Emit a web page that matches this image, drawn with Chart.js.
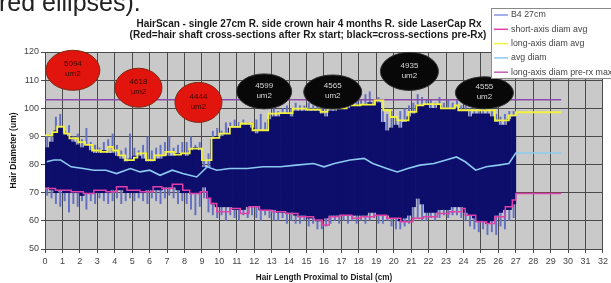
<!DOCTYPE html>
<html><head><meta charset="utf-8">
<script src="https://cdn.jsdelivr.net/npm/chart.js@4/dist/chart.umd.min.js"></script>
<style>html,body{margin:0;padding:0;background:#fff;overflow:hidden}</style>
</head><body>
<canvas id="c" width="611" height="283"></canvas>
<script>
// ---- DATA ----
// raw "B4 27cm" scan, summarised per 0.25 cm slice (dense core range and spike extremes, um)
const bandStart = 0.125, bandStep = 0.25;
const coreHigh = [86,88,92,93, 91,90,88,87, 86,87,85,84, 84,85,84,84, 83,82,81,82, 83,83,82,81, 81,82,82,83, 83,83,84,84, 83,85,86,85,
  79,79,89,90, 90,91,93,93, 93,94,94,93, 91,92,92,96, 97,97,98,98, 97,99,99,99, 99,99,99,98, 97,99,99,100, 100,100,101,101,
  101,101,102,101, 102,95,92,93, 94,93,95,97, 98,101,101,101, 100,100,101,100, 100,100,100,99, 99,97,98,98, 98,98,97,95, 94,94,96,97];
const coreLow = [72,71,70,71, 70,70,70,70, 69,70,70,70, 70,70,70,71, 71,71,70,70, 70,70,70,71, 71,71,71,72, 72,72,71,70, 70,70,70,70,
  72,68,66,65, 65,65,65,64, 64,64,65,65, 65,64,64,64, 64,63,63,63, 63,62,62,62, 61,61,60,60, 61,62,62,62, 62,62,62,62,
  62,62,63,63, 62,62,62,61, 61,60,61,62, 65,68,66,63, 63,63,64,64, 64,65,65,65, 63,62,61,60, 60,59,60,62, 63,64,64,66];
const spikeHigh = [90,91,97,98, 92,94,90,91, 89,93,88,87, 86,88,89,91, 87,85,86,91, 86,85,87,90, 85,86,87,88, 90,86,87,88, 88,90,87,88,
  82,84,92,93, 92,95,95,96, 95,96,95,95, 96,98,95,98, 100,99,100,101, 100,102,101,101, 102,101,103,100, 101,102,101,103, 102,103,104,103,
  103,105,106,103, 104,100,98,99, 97,99,100,101, 102,105,104,103, 103,102,104,102, 103,102,103,101, 102,100,101,100, 100,99,100,98, 97,98,99,99];
const spikeLow = [69,68,66,65, 67,63,66,65, 67,64,67,66, 68,67,66,67, 68,66,67,68, 67,68,67,66, 68,67,66,68, 69,68,66,67, 66,64,62,65,
  68,63,62,61, 62,60,62,61, 60,62,61,62, 61,60,62,61, 60,60,61,59, 60,59,59,60, 58,59,57,57, 58,59,60,59, 60,59,60,59,
  60,59,60,61, 59,59,60,58, 57,57,58,59, 60,61,60,60, 61,60,61,62, 61,62,62,61, 60,58,57,56, 57,55,56,55, 58,57,60,61];

// long-axis diam avg (step line: value starts at x)
const longAxisX = [0,0.4,0.7,1.1,1.4,1.9,2.3,2.7,3.2,3.6,3.9,4.2,4.6,5.1,5.3,5.8,6.3,6.9,7.4,7.8,8.3,9.0,9.55,10.0,10.6,11.2,11.9,12.8,13.4,14.2,15.0,15.8,16.2,17.3,18.1,18.9,19.4,19.8,20.2,20.85,21.3,21.7,22.7,23.5,23.7,25.8,26.6,27.0,29.6];
const longAxisY = [90.4,91.5,93.5,91,89.3,88,87,85,84.5,86.3,85,83.3,81.6,82.5,84,81.6,83.3,84.5,83.5,84,85.7,81.6,89.5,91,93.4,94.6,92.2,98.1,98.3,99.9,99.5,98.7,100,101,101.3,102.8,99.3,96.9,95.7,98.7,101,101.5,100,101,99.3,95.7,97.5,98.6,98.6];
// short-axis diam avg
const shortAxisX = [0,0.6,1.5,2.2,2.8,3.5,4.1,4.7,5.45,6.2,6.7,7.3,7.9,8.3,8.9,9.3,9.5,9.85,10.6,11.2,11.7,12.3,13.0,13.8,14.5,15.4,15.9,16.3,16.9,17.6,18.1,18.9,19.6,20.4,21.1,21.7,22.5,23.2,23.9,24.1,24.7,25.3,25.8,26.4,26.8,27.0,29.6];
const shortAxisY = [71.5,70.9,70.3,69.7,70.9,70.3,72.1,70.9,70.3,72.1,71.5,73,70.9,69.7,70.3,68,66.2,63.2,64.4,62.6,65,63.8,63.2,62.6,61.5,60.3,58.5,61.5,62,60.9,61.5,62,60.9,59.7,60.9,61.5,62.6,63.2,64.4,62,59.7,59.1,61.5,65,67.4,69.7,69.7];
// avg diam
const avgX = [0.1,0.5,0.9,1.5,2.2,2.8,3.5,4.1,4.9,5.45,6.0,6.6,7.3,7.9,8.3,8.7,9.3,9.85,10.6,11.6,12.5,13.5,14.4,15.4,16.0,16.6,17.5,18.3,18.8,19.6,20.2,20.8,21.5,22.3,23.0,23.6,24.1,24.7,25.3,26.0,26.6,27.0,29.6];
const avgY = [81,81.6,81.6,79.2,78.6,78,78,76.8,78.6,77.4,78,76.2,78,76.8,76.2,75.6,79.2,78,78.6,78.6,79.2,79.2,79.8,80.4,79.2,80.4,81.6,82.2,80.4,78.6,77.4,78.6,79.8,80.4,81.6,82.7,81,78,79.2,79.8,80.4,84.1,84.1];
// long-axis diam pre-rx max
const preMaxX = [0, 29.6];
const preMaxY = [103, 103];

// cross-section area callouts (um2), at (cm, um)
const calloutText = ['5094','4618','4444','4599','4565','4935','4555'];
const calloutX = [1.6, 5.36, 8.8, 12.57, 16.5, 20.9, 25.2];
const calloutY = [113.5, 107.3, 102.1, 106.0, 105.8, 113.1, 105.5];
const calloutAfterRx = [true, true, true, false, false, false, false];

const xTicksMax = 32;
const yMin = 50, yMax = 120, yStep = 10;

// ---- STYLE ----
const FONT = "'Liberation Sans', Arial, sans-serif";
const C_NAVY = '#0d0d6b', C_SPIKE = '#6470c0', C_YEL = '#f2f23c', C_MAG = '#e040a8', C_LB = '#8ccaf0', C_PUR = '#8c4aa8';
const calloutRx = [27, 23.5, 23.5, 27.5, 29, 29, 29];
const calloutRy = [20, 19.5, 20, 17.5, 17, 19, 16];

const bandX = coreHigh.map((_, i) => bandStart + i * bandStep);
const pts = (xs, ys) => xs.map((x, i) => ({x, y: ys[i]}));

const bgPlugin = {
  id: 'bg',
  beforeDraw(chart) {
    const {ctx, chartArea: a} = chart;
    ctx.save();
    ctx.fillStyle = '#fff'; ctx.fillRect(0, 0, chart.width, chart.height);
    ctx.fillStyle = '#c9c9c9'; ctx.fillRect(a.left, a.top, a.right - a.left, a.bottom - a.top);
    ctx.restore();
  }
};
const calloutPlugin = {
  id: 'callouts',
  afterDatasetsDraw(chart) {
    const {ctx, scales: {x, y}} = chart;
    ctx.save();
    calloutText.forEach((t, i) => {
      const cx = x.getPixelForValue(calloutX[i]), cy = y.getPixelForValue(calloutY[i]);
      ctx.beginPath();
      ctx.ellipse(cx, cy, calloutRx[i], calloutRy[i], 0, 0, Math.PI * 2);
      ctx.fillStyle = calloutAfterRx[i] ? '#e2140e' : '#080808';
      ctx.fill();
      ctx.lineWidth = 1; ctx.strokeStyle = calloutAfterRx[i] ? '#7a2a10' : '#303030';
      ctx.stroke();
      ctx.fillStyle = calloutAfterRx[i] ? '#3a0a00' : '#d8d8d8';
      ctx.font = '8px ' + FONT; ctx.textAlign = 'center'; ctx.textBaseline = 'middle';
      ctx.fillText(t, cx, cy - 6);
      ctx.fillText('um2', cx, cy + 4);
    });
    ctx.restore();
  }
};
const legendItems = [
  ['B4 27cm', '#8a94e2'], ['short-axis diam avg', C_MAG], ['long-axis diam avg', C_YEL],
  ['avg diam', C_LB], ['long-axis diam pre-rx max', '#c060b0']
];
const overlayPlugin = {
  id: 'overlay',
  afterDraw(chart) {
    const {ctx} = chart;
    ctx.save();
    // cut-off caption above
    ctx.fillStyle = '#222'; ctx.font = '25px ' + FONT; ctx.textAlign = 'left'; ctx.textBaseline = 'alphabetic';
    ctx.fillText('red ellipses).', -1, 11);
    // title
    ctx.font = 'bold 10px ' + FONT; ctx.textAlign = 'center'; ctx.textBaseline = 'middle'; ctx.fillStyle = '#1a1a1a';
    ctx.fillText('HairScan - single 27cm R. side crown hair 4 months R. side LaserCap Rx', 309, 24);
    ctx.fillText('(Red=hair shaft cross-sections after Rx start; black=cross-sections pre-Rx)', 308, 35.5);
    // legend
    ctx.fillStyle = '#fff'; ctx.fillRect(491.5, 8.5, 130, 70);
    ctx.strokeStyle = '#8a8a8a'; ctx.lineWidth = 1; ctx.strokeRect(491.5, 8.5, 130, 70);
    ctx.font = '8.8px ' + FONT; ctx.textAlign = 'left';
    legendItems.forEach(([t, c], i) => {
      const yy = 15 + i * 14.3;
      ctx.strokeStyle = c; ctx.lineWidth = 1.5;
      ctx.beginPath(); ctx.moveTo(494, yy); ctx.lineTo(508, yy); ctx.stroke();
      ctx.fillStyle = '#444'; ctx.fillText(t, 511, yy);
    });
    ctx.restore();
  }
};

new Chart(document.getElementById('c'), {
  type: 'bar',
  data: {
    datasets: [
      {type: 'line', label: 'long-axis diam pre-rx max', data: pts(preMaxX, preMaxY), borderColor: C_PUR, borderWidth: 1.5, pointRadius: 0, order: 4},
      {type: 'bar', label: 'B4 27cm spikes', data: bandX.map((x, i) => ({x, y: [spikeLow[i], spikeHigh[i]]})),
        backgroundColor: C_SPIKE, borderWidth: 0, barPercentage: 0.45, categoryPercentage: 1, grouped: false, order: 7},
      {type: 'bar', label: 'B4 27cm', data: bandX.map((x, i) => ({x, y: [coreLow[i], coreHigh[i]]})),
        backgroundColor: C_NAVY, borderWidth: 0, barPercentage: 1, categoryPercentage: 1, grouped: false, order: 6},
      {type: 'line', label: 'short-axis diam avg', data: pts(shortAxisX, shortAxisY), stepped: 'before', borderColor: C_MAG, borderWidth: 1.5, pointRadius: 0, order: 3},
      {type: 'line', label: 'avg diam', data: pts(avgX, avgY), borderColor: C_LB, borderWidth: 1.6, pointRadius: 0, order: 2},
      {type: 'line', label: 'long-axis diam avg', data: pts(longAxisX, longAxisY), stepped: 'before', borderColor: C_YEL, borderWidth: 1.8, pointRadius: 0, order: 1}
    ]
  },
  options: {
    responsive: false, animation: false, devicePixelRatio: 1, events: [],
    layout: {padding: {top: 52, right: 8, left: 0, bottom: 0}},
    plugins: {legend: {display: false}, title: {display: false}, tooltip: {enabled: false}},
    scales: {
      x: {
        type: 'linear', min: 0, max: xTicksMax, offset: false,
        grid: {color: '#4a4a4a', lineWidth: 1, offset: false, tickLength: 4, drawTicks: true},
        border: {color: '#4a4a4a'},
        ticks: {stepSize: 1, color: '#444', font: {family: FONT, size: 9}, padding: 3, maxRotation: 0, autoSkip: false},
        title: {display: true, text: 'Hair Length Proximal to Distal (cm)', color: '#1a1a1a', font: {family: FONT, size: 8.2, weight: 'bold'}, padding: {top: 0, bottom: 0}},
        afterFit(s) { s.height = 34; }
      },
      y: {
        min: yMin, max: yMax,
        grid: {color: '#4a4a4a', lineWidth: 1, tickLength: 4},
        border: {color: '#4a4a4a'},
        ticks: {stepSize: yStep, color: '#444', font: {family: FONT, size: 9}, padding: 2},
        title: {display: true, text: 'Hair Diameter (um)', color: '#1a1a1a', font: {family: FONT, size: 8.5, weight: 'bold'}, padding: {top: 9, bottom: 0}},
        afterFit(s) { s.width = 45; }
      }
    }
  },
  plugins: [bgPlugin, calloutPlugin, overlayPlugin]
});
</script>
</body></html>
